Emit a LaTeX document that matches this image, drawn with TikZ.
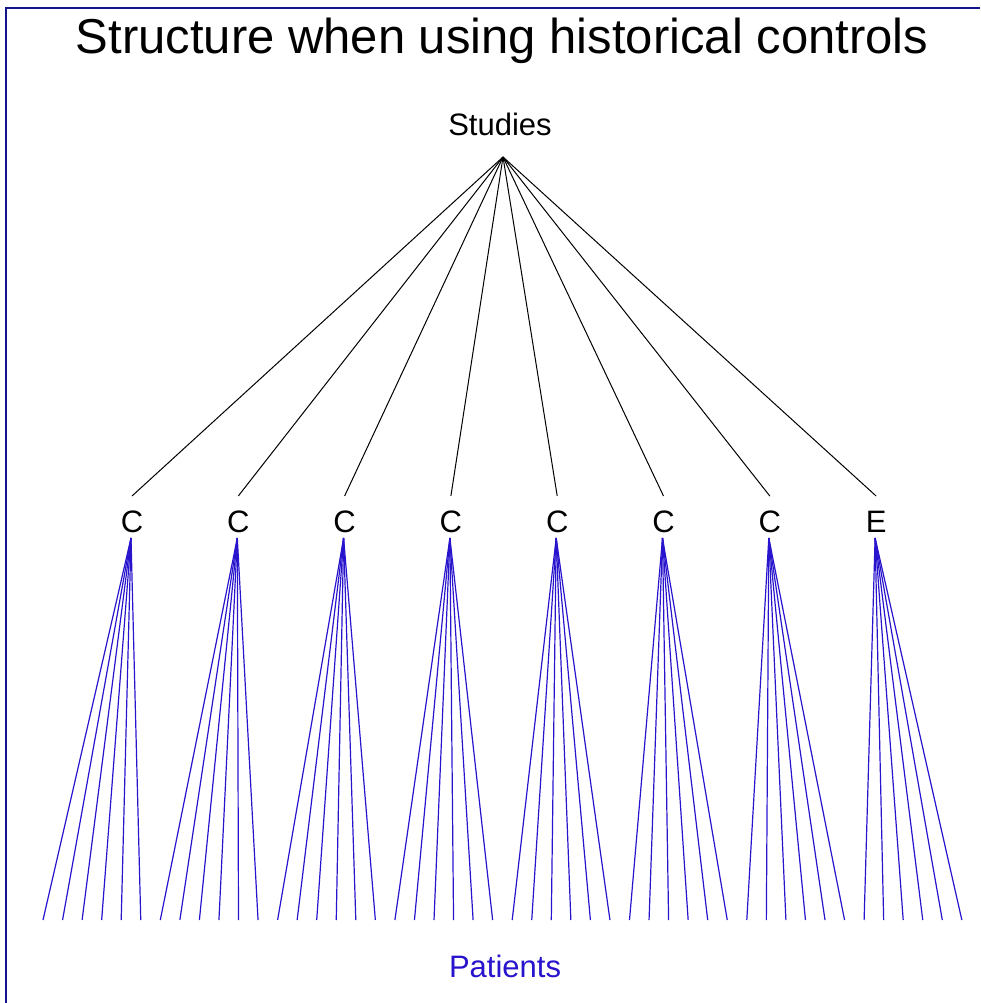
\documentclass[tikz,border=0pt]{standalone}
\usepackage{fontspec}
\setmainfont{Liberation Sans}
\usepackage{xcolor}
\usepackage{tikz}
\usetikzlibrary{positioning}
\definecolor{framecol}{RGB}{20,20,140}
\definecolor{patcol}{RGB}{40,20,205}

\begin{document}
\begin{tikzpicture}[x=1pt, y=-1pt,
  lbl/.style={anchor=base, inner sep=0pt, font=\fontsize{31}{34}\selectfont},
  study/.style={draw=black, line width=1pt},
  patient/.style={draw=patcol, line width=1.2pt}]
  \useasboundingbox (0,0) rectangle (980,1003);
  \fill[white] (0,0) rectangle (980,1003);
  \draw[framecol, line width=2pt] (6,1003) -- (6,8) -- (980,8);
  \node[anchor=base, inner sep=0pt, font=\fontsize{49}{53}\selectfont] (title) at (502,54) {Structure when using historical controls};
  \node[lbl] (studies) at (500,136) {Studies};
  \coordinate (top) at (503,157);
  % arms: seven controls and one experimental
  \foreach \i/\t in {1/C,2/C,3/C,4/C,5/C,6/C,7/C,8/E} {
    \node[lbl] (arm\i) at ({132+106.3*(\i-1)},532) {\t};
    \coordinate (arm\i up) at ({132+106.3*(\i-1)},496);
    \coordinate (arm\i down) at ({131+106.3*(\i-1)},538);
    \draw[study] (top) -- (arm\i up);
    \foreach \j in {0,...,5} {
      \coordinate (pat\i-\j) at ({43+19.55*(6*(\i-1)+\j)},920);
      \draw[patient] (arm\i down) -- (pat\i-\j);
    }
  }
  \node[lbl, text=patcol] (patients) at (505,977) {Patients};
\end{tikzpicture}
\end{document}
